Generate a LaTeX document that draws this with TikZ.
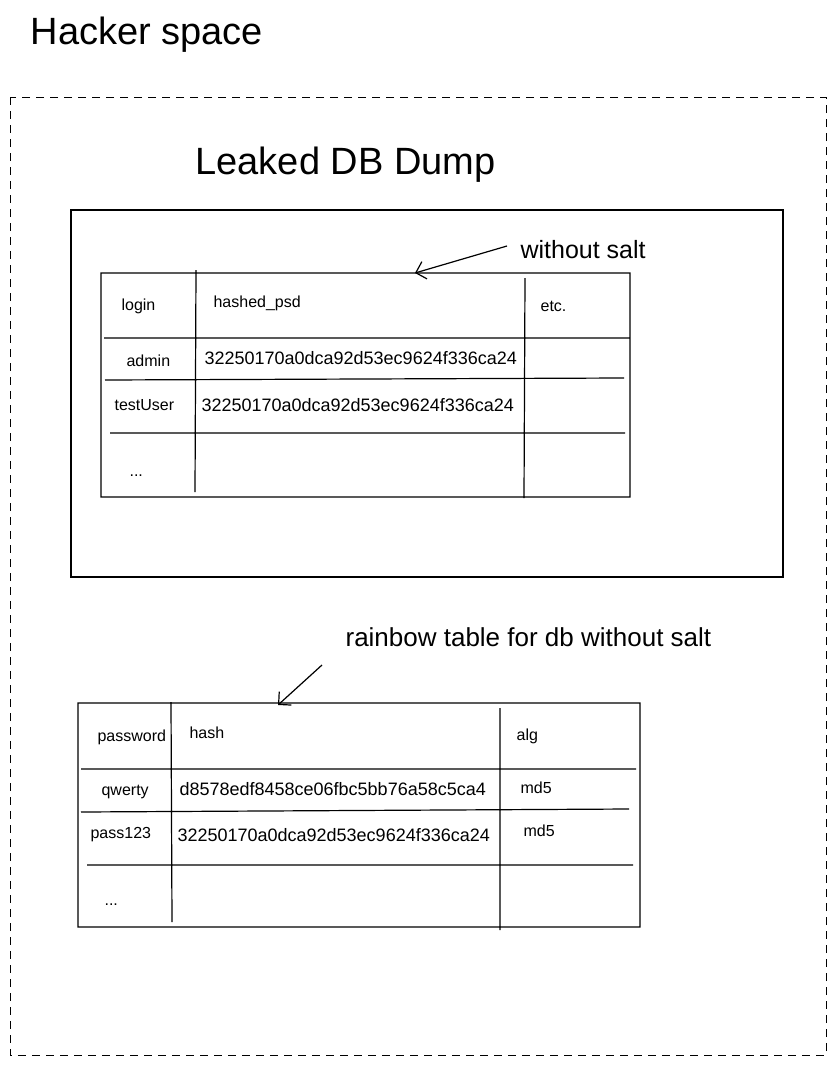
\documentclass[tikz,border=0pt]{standalone}
\usepackage{fontspec}
\setmainfont{Liberation Sans}
\usetikzlibrary{arrows.meta}

\begin{document}
\begin{tikzpicture}[
    x = 1pt, y = -1pt,
    line width = 1.2pt,
    every node/.style = {anchor = west, inner sep = 0pt},
    heading/.style = {font = \fontsize{38}{40}\selectfont},
    remark/.style = {font = \fontsize{25}{27}\selectfont},
    cell/.style = {font = \fontsize{16}{18}\selectfont},
    hashcell/.style = {font = \fontsize{18}{20}\selectfont},
    pointer/.style = {-{Straight Barb[length=9pt, width=18pt]}}]

\useasboundingbox (0,0) rectangle (836,1065);
\draw[dash pattern = on 8pt off 6pt, line width = 1pt] (10,97) rectangle (826,1055);
\draw (71,210) rectangle (783,577);
\draw (101,273) rectangle (630,497)
      (104,338) -- (630,338)
      (105,380) -- (624,378)
      (110,433) -- (625,433)
      (196,270) -- (195,492)
      (525,278) -- (524,498);
\draw (78,703) rectangle (640,927)
      (81,769) -- (636,769)
      (81,812) -- (629,809)
      (87,865) -- (633,865)
      (171,702) -- (172,922)
      (500,708) -- (500,930);
\path (30,35) node(hacker) [heading] {Hacker space}
      (195,165) node(leaked) [heading] {Leaked DB Dump}
      (520,250) node(saltNote) [remark] {without salt}
      (345,637) node(rainbowNote) [remark, font = \fontsize{26}{28}\selectfont] {rainbow table for db without salt};
\path (121,306) node(login) [cell] {login}
      (213,303) node(hashedPsd) [cell] {hashed\_psd}
      (540,306) node(etc) [cell] {etc.}
      (126,361) node(admin) [cell] {admin}
      (204,358) node(adminHash) [hashcell] {32250170a0dca92d53ec9624f336ca24}
      (114,405) node(testUser) [cell] {testUser}
      (201,405) node(testHash) [hashcell] {32250170a0dca92d53ec9624f336ca24}
      (129,476) node(dbMore) [cell] {...};
\path (97,737) node(password) [cell] {password}
      (189,733) node(hash) [cell] {hash}
      (516,736) node(alg) [cell] {alg}
      (101,792) node(qwerty) [cell] {qwerty}
      (179,789) node(qwertyHash) [hashcell] {d8578edf8458ce06fbc5bb76a58c5ca4}
      (520,788) node(qwertyAlg) [cell] {md5}
      (90,835) node(pass) [cell] {pass123}
      (177,835) node(passHash) [hashcell] {32250170a0dca92d53ec9624f336ca24}
      (523,831) node(passAlg) [cell] {md5}
      (104,905) node(rainbowMore) [cell] {...};
\coordinate (dbTop) at (415,273);
\coordinate (rainbowTop) at (278,705);
\draw[pointer] ([xshift=-13pt, yshift=4pt]saltNote.west) -- (dbTop);
\draw[pointer] ([xshift=-23pt, yshift=-28pt]rainbowNote.west) -- (rainbowTop);
\end{tikzpicture}
\end{document}
